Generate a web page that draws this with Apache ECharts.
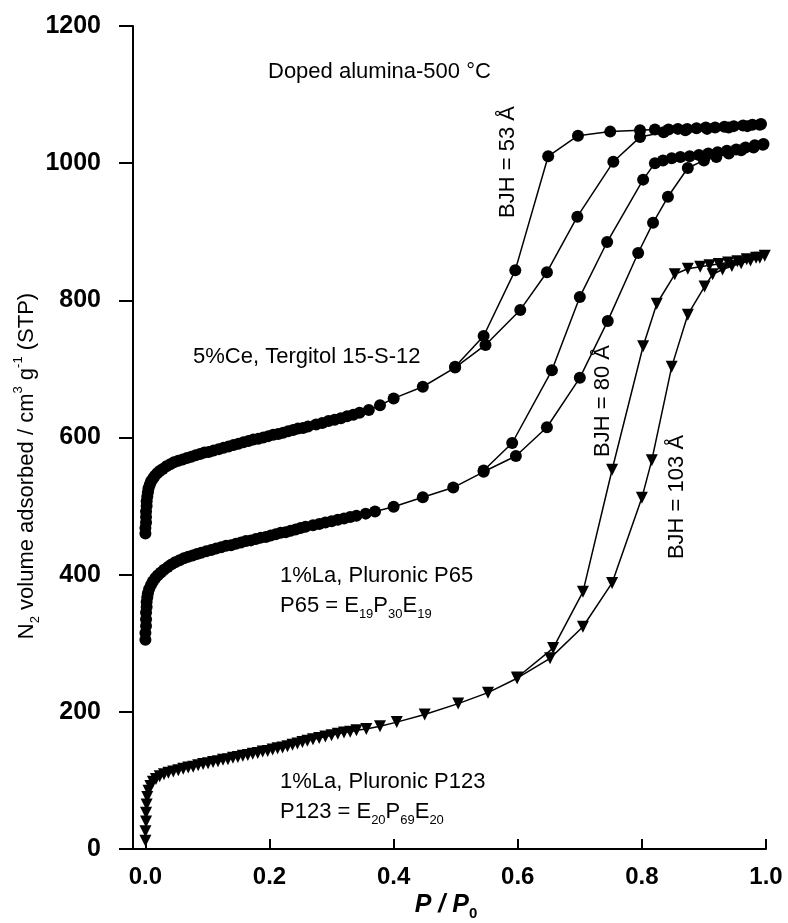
<!DOCTYPE html>
<html>
<head>
<meta charset="utf-8">
<script src="https://cdn.jsdelivr.net/npm/echarts/dist/echarts.min.js"></script>
<style>
  html, body { margin: 0; padding: 0; background: #fff; }
  #chart { width: 788px; height: 923px; }
</style>
</head>
<body>
<div id="chart"></div>
<script>
// N2 sorption isotherms of doped mesoporous alumina calcined at 500 °C
// Each pair: [P/P0, volume adsorbed (cm3 g-1 STP)]

const xTicks = [0, 0.2, 0.4, 0.6, 0.8, 1.0];

// 5%Ce, Tergitol 15-S-12 (circles)
const ceAdsorption = [
  [0.000,460],[0.000,468],[0.001,476],[0.001,484],[0.001,492],[0.002,500],[0.002,507],[0.003,514],
  [0.004,520],[0.005,526],[0.007,531],[0.009,536],[0.012,540],[0.015,544],[0.019,548],[0.023,551],
  [0.028,554],[0.034,558],[0.040,561],[0.046,564],[0.053,566],[0.060,568],[0.067,570],[0.074,572],
  [0.081,574],[0.088,576],[0.095,578],[0.102,579],[0.110,581],[0.118,583],[0.126,585],[0.134,587],
  [0.142,589],[0.150,591],[0.158,593],[0.166,595],[0.174,597],[0.182,598],[0.190,600],[0.198,602],
  [0.206,604],[0.214,605],[0.222,607],[0.230,609],[0.238,611],[0.246,613],[0.254,614],[0.262,616],
  [0.275,619],[0.285,621],[0.295,624],[0.305,626],[0.315,628],[0.325,631],[0.335,633],[0.345,636],
  [0.360,640],[0.378,647],[0.400,657],[0.447,674],[0.499,702],[0.548,735],[0.604,786],[0.647,841],
  [0.696,922],[0.754,1002],[0.797,1038],[0.835,1045],[0.870,1048],[0.905,1050],[0.940,1052],
  [0.970,1054],[0.990,1056]
];
const ceDesorption = [
  [0.992,1057],[0.978,1056],[0.963,1055],[0.948,1054],[0.933,1053],[0.918,1052],[0.903,1052],
  [0.888,1051],[0.873,1050],[0.858,1050],[0.843,1049],[0.821,1049],[0.797,1048],[0.749,1046],
  [0.697,1040],[0.649,1010],[0.596,844],[0.545,748],[0.499,703]
];

// 1%La, Pluronic P65 (circles)
const p65Adsorption = [
  [0.000,305],[0.000,315],[0.001,325],[0.001,335],[0.001,345],[0.002,353],[0.002,360],[0.003,367],
  [0.004,373],[0.006,379],[0.009,385],[0.012,390],[0.016,395],[0.020,399],[0.025,403],[0.030,407],
  [0.036,411],[0.042,415],[0.048,418],[0.055,421],[0.062,424],[0.069,426],[0.076,428],[0.083,430],
  [0.090,432],[0.098,434],[0.106,436],[0.114,438],[0.122,440],[0.130,442],[0.138,443],[0.146,445],
  [0.154,447],[0.162,449],[0.170,450],[0.178,452],[0.186,454],[0.194,455],[0.202,457],[0.210,459],
  [0.218,461],[0.226,462],[0.234,464],[0.242,466],[0.250,468],[0.258,470],[0.270,472],[0.280,474],
  [0.290,476],[0.300,478],[0.310,480],[0.320,482],[0.330,484],[0.340,486],[0.355,489],[0.370,492],
  [0.400,499],[0.447,513],[0.496,527],[0.545,550],[0.597,573],[0.647,615],[0.700,687],[0.745,770],
  [0.794,869],[0.818,913],[0.842,951],[0.874,993],[0.900,1004],[0.920,1009],[0.940,1014],
  [0.960,1019],[0.980,1023],[0.995,1027]
];
const p65Desorption = [
  [0.996,1028],[0.982,1026],[0.967,1023],[0.952,1020],[0.937,1018],[0.922,1016],[0.907,1014],
  [0.892,1012],[0.877,1010],[0.862,1009],[0.848,1007],[0.834,1004],[0.821,1000],[0.802,976],
  [0.744,885],[0.700,805],[0.655,698],[0.591,592],[0.545,552]
];

// 1%La, Pluronic P123 (triangles)
const p123Adsorption = [
  [0.000,12],[0.000,26],[0.001,40],[0.001,53],[0.002,65],[0.003,76],[0.005,85],[0.008,92],
  [0.012,98],[0.017,102],[0.023,106],[0.030,109],[0.037,111],[0.045,113],[0.053,115],[0.061,117],
  [0.069,119],[0.077,120],[0.085,122],[0.093,124],[0.101,125],[0.109,127],[0.117,128],[0.125,130],
  [0.133,131],[0.141,133],[0.149,134],[0.157,136],[0.165,137],[0.173,139],[0.181,140],[0.189,142],
  [0.197,143],[0.205,145],[0.213,147],[0.221,148],[0.229,150],[0.237,152],[0.245,154],[0.253,156],
  [0.261,158],[0.270,160],[0.280,162],[0.290,164],[0.300,166],[0.310,168],[0.320,170],[0.330,171],
  [0.340,173],[0.356,175],[0.378,179],[0.405,185],[0.450,196],[0.504,212],[0.552,228],[0.599,249],
  [0.652,278],[0.705,324],[0.752,388],[0.800,512],[0.816,567],[0.848,703],[0.874,779],[0.901,820],
  [0.914,838],[0.930,845],[0.945,850],[0.960,854],[0.975,858],[0.990,862]
];
const p123Desorption = [
  [0.998,865],[0.984,862],[0.969,860],[0.954,857],[0.939,855],[0.924,853],[0.909,851],[0.894,849],
  [0.874,846],[0.853,838],[0.824,795],[0.802,733],[0.752,553],[0.705,375],[0.657,293],[0.599,250]
];

const chart = echarts.init(document.getElementById('chart'), null, { renderer: 'canvas' });

const FONT = '"Liberation Sans", Arial, Helvetica, sans-serif';
const INK = '#000';

function isotherm(data, symbol) {
  return {
    type: 'line',
    data: data,
    symbol: symbol,
    symbolSize: symbol === 'triangle' ? [12, 12] : 12,
    symbolRotate: symbol === 'triangle' ? 180 : 0,
    showSymbol: true,
    clip: false,
    lineStyle: { color: INK, width: 1.5 },
    itemStyle: { color: INK, borderWidth: 0 },
    emphasis: { disabled: true },
    animation: false
  };
}

const baseRich = {
  b: { fontFamily: FONT, fontSize: 22, lineHeight: 30, color: INK, verticalAlign: 'middle' },
  s: { fontFamily: FONT, fontSize: 13, lineHeight: 13, color: INK, verticalAlign: 'bottom' },
  p: { fontFamily: FONT, fontSize: 13, lineHeight: 13, color: INK, verticalAlign: 'top' }
};

function note(text, x, y, rotation, align) {
  return {
    type: 'text',
    x: x, y: y,
    rotation: rotation || 0,
    silent: true,
    style: {
      text: text,
      rich: baseRich,
      align: align || 'left',
      verticalAlign: 'middle',
      fill: INK
    }
  };
}

const option = {
  backgroundColor: '#fff',
  animation: false,
  grid: { left: 133, right: 22, top: 26, bottom: 74, containLabel: false },
  xAxis: {
    type: 'value',
    min: -0.02,
    max: 1.0,
    axisLine: { show: true, lineStyle: { color: INK, width: 2 } },
    axisTick: { show: true, inside: true, length: 10, customValues: xTicks, lineStyle: { color: INK, width: 2 } },
    axisLabel: {
      show: true,
      customValues: xTicks,
      formatter: v => v.toFixed(1),
      margin: 16,
      fontFamily: FONT, fontSize: 24, fontWeight: 'bold', color: INK
    },
    splitLine: { show: false }
  },
  yAxis: {
    type: 'value',
    min: 0,
    max: 1200,
    interval: 200,
    axisLine: { show: true, onZero: false, lineStyle: { color: INK, width: 2 } },
    axisTick: { show: true, inside: false, length: 14, lineStyle: { color: INK, width: 2 } },
    axisLabel: {
      margin: 32,
      formatter: v => String(v),
      fontFamily: FONT, fontSize: 25, fontWeight: 'bold', color: INK
    },
    splitLine: { show: false }
  },
  series: [
    isotherm(ceAdsorption, 'circle'),
    isotherm(ceDesorption, 'circle'),
    isotherm(p65Adsorption, 'circle'),
    isotherm(p65Desorption, 'circle'),
    isotherm(p123Adsorption, 'triangle'),
    isotherm(p123Desorption, 'triangle')
  ],
  graphic: [
    note('{b|N}{s|2}{b| volume adsorbed / cm}{p|3}{b| g}{p|-1}{b| (STP)}', 27, 466, Math.PI / 2, 'center'),
    {
      type: 'text', x: 446, y: 905, silent: true,
      style: {
        text: '{i|P / P}{j|0}',
        rich: {
          i: { fontFamily: FONT, fontSize: 25, fontWeight: 'bold', fontStyle: 'italic', lineHeight: 32, color: INK, verticalAlign: 'middle' },
          j: { fontFamily: FONT, fontSize: 15, fontWeight: 'bold', lineHeight: 15, color: INK, verticalAlign: 'bottom' }
        },
        align: 'center', verticalAlign: 'middle', fill: INK
      }
    },
    note('{b|Doped alumina-500 °C}', 268, 72),
    note('{b|5%Ce, Tergitol 15-S-12}', 193, 357),
    note('{b|1%La, Pluronic P65}', 280, 576),
    note('{b|P65 = E}{s|19}{b|P}{s|30}{b|E}{s|19}', 280, 606),
    note('{b|1%La, Pluronic P123}', 280, 782),
    note('{b|P123 = E}{s|20}{b|P}{s|69}{b|E}{s|20}', 280, 812),
    note('{b|BJH = 53 Å}', 508, 162, Math.PI / 2, 'center'),
    note('{b|BJH = 80 Å}', 603, 401, Math.PI / 2, 'center'),
    note('{b|BJH = 103 Å}', 677, 497, Math.PI / 2, 'center')
  ]
};

chart.setOption(option);
</script>
</body>
</html>
